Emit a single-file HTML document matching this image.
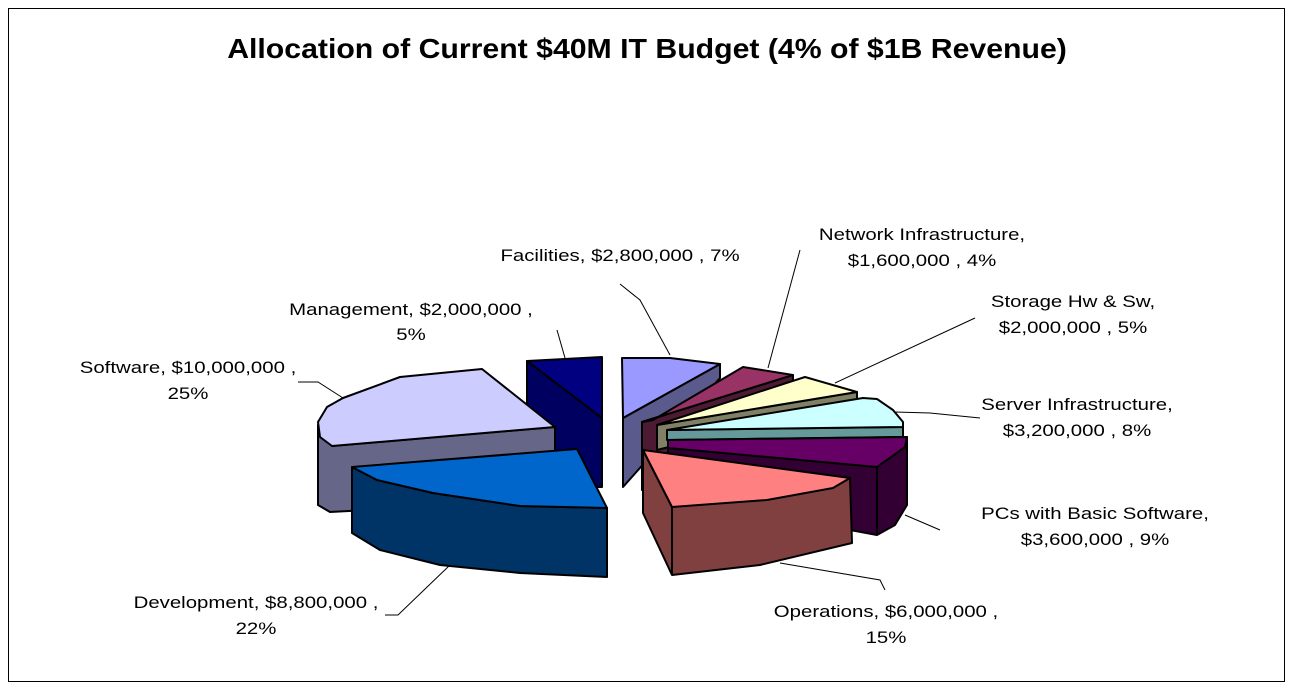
<!DOCTYPE html>
<html><head><style>
body{margin:0;background:#fff;}
svg{display:block;font-family:"Liberation Sans",Arial,sans-serif;}
</style></head><body>
<svg width="1294" height="691" viewBox="0 0 1294 691">
<rect x="0" y="0" width="1294" height="691" fill="#fff"/>
<rect x="8.5" y="8.5" width="1276" height="673" fill="none" stroke="#000" stroke-width="1"/>
<text transform="translate(647,58) scale(1.08,1)" text-anchor="middle" font-size="28" font-weight="bold">Allocation of Current $40M IT Budget (4% of $1B Revenue)</text>
<g stroke="#000" stroke-width="1" fill="none">
<polyline points="620,284 640,300 670,355"/>
<polyline points="800,250 768,368"/>
<polyline points="975,318 835,383"/>
<polyline points="895,412 930,413 980,418"/>
<polyline points="905,515 940,530"/>
<polyline points="780,563 880,580 885,590"/>
<polyline points="385,615 398,615 450,565"/>
<polyline points="298,382 318,382 343,398"/>
<polyline points="557,330 565,358"/>
</g>
<g stroke="#000" stroke-width="2" stroke-linejoin="round">
<polygon points="527,361 602,418 602,487 527,487" fill="#000060"/>
<polygon points="527,361 602,357 602,418" fill="#000080"/>
<polygon points="318,425 332,446 555,427 555,500 330,512 318,505" fill="#666688"/>
<polygon points="318,422 327,407 343,398 400,377 482,369 555,427 332,446 320,437" fill="#ccccff"/>
<polygon points="352,467 377,480 433,493 520,506 607,508 607,577 520,573 440,565 380,550 352,533" fill="#003366"/>
<polygon points="352,467 577,449 607,508 520,506 433,493 377,480" fill="#0066cc"/>
<polygon points="623,418 720,364 720,378 623,487" fill="#5a5a8c"/>
<polygon points="622,358 670,358 720,364 623,418" fill="#9999ff"/>
<polygon points="642,422 793,375 793,382 642,490" fill="#4d1a33"/>
<polygon points="653,420 743,367 793,375 642,422" fill="#993366"/>
<polygon points="657,425 857,392 857,400 657,450" fill="#808066"/>
<polygon points="657,425 805,377 857,392" fill="#ffffcc"/>
<polygon points="667,430 903,427 903,437 667,440" fill="#669999"/>
<polygon points="667,430 863,398 877,399 893,410 903,422 903,427" fill="#ccffff"/>
<polygon points="668,448 877,467 905,447 907,437 907,505 895,525 877,535 850,530 850,500 668,470" fill="#330033"/>
<line x1="877" y1="467" x2="877" y2="535"/>
<polygon points="668,440 907,437 905,447 877,467 668,448" fill="#660066"/>
<polygon points="643,450 672,507 850,478 852,543 760,565 672,575 643,513" fill="#804040"/>
<line x1="672" y1="507" x2="672" y2="575"/>
<polygon points="643,450 850,478 833,488 767,500 672,507" fill="#ff8080"/>
</g>
<g font-size="17" text-anchor="middle" fill="#000">
<text transform="translate(620,261) scale(1.2,1)">Facilities, $2,800,000 , 7%</text>
<text transform="translate(922,240) scale(1.2,1)">Network Infrastructure,</text><text transform="translate(922,266) scale(1.2,1)">$1,600,000 , 4%</text>
<text transform="translate(1073,307) scale(1.2,1)">Storage Hw &amp; Sw,</text><text transform="translate(1073,333) scale(1.2,1)">$2,000,000 , 5%</text>
<text transform="translate(1077,410) scale(1.2,1)">Server Infrastructure,</text><text transform="translate(1077,436) scale(1.2,1)">$3,200,000 , 8%</text>
<text transform="translate(1095,519) scale(1.2,1)">PCs with Basic Software,</text><text transform="translate(1095,545) scale(1.2,1)">$3,600,000 , 9%</text>
<text transform="translate(886,617) scale(1.2,1)">Operations, $6,000,000 ,</text><text transform="translate(886,643) scale(1.2,1)">15%</text>
<text transform="translate(256,608) scale(1.2,1)">Development, $8,800,000 ,</text><text transform="translate(256,634) scale(1.2,1)">22%</text>
<text transform="translate(188,373) scale(1.2,1)">Software, $10,000,000 ,</text><text transform="translate(188,399) scale(1.2,1)">25%</text>
<text transform="translate(411,315) scale(1.2,1)">Management, $2,000,000 ,</text><text transform="translate(411,340) scale(1.2,1)">5%</text>
</g>
</svg>
</body></html>
